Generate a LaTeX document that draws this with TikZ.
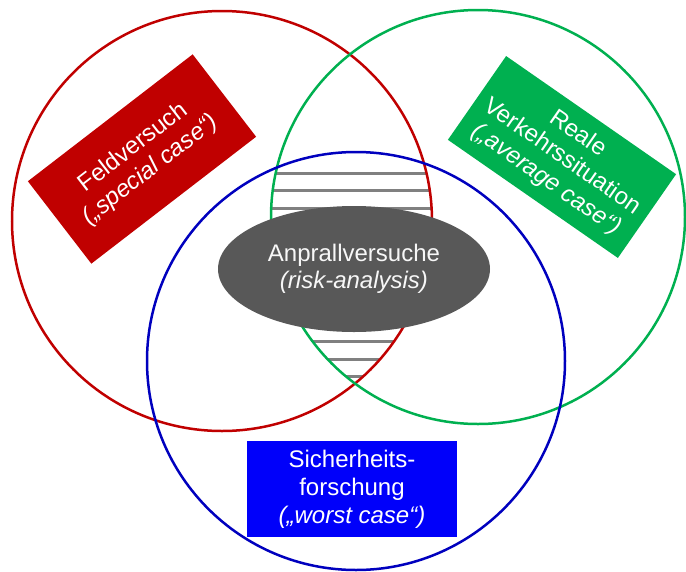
\documentclass[tikz,border=0pt]{standalone}
\usepackage{fontspec}
\setmainfont{Liberation Sans}
\usetikzlibrary{shapes.geometric}

\definecolor{fieldred}{RGB}{192,0,0}
\definecolor{trafficgreen}{RGB}{0,176,80}
\definecolor{safetyblue}{RGB}{0,0,190}
\definecolor{boxblue}{RGB}{0,0,250}
\definecolor{crashgray}{RGB}{88,88,88}
\definecolor{hatchgray}{RGB}{128,128,128}

\begin{document}
\begin{tikzpicture}[x=1pt, y=-1pt,
    ring/.style={line width=2.5pt},
    casebox/.style={inner sep=0pt, text=white, align=center, font=\fontsize{24}{28}\selectfont},
    hatch/.style={line width=3pt, hatchgray}]
    \useasboundingbox (0,0) rectangle (686,571);

    % Centres of the three circles
    \coordinate (field) at (222,221);
    \coordinate (traffic) at (478,217);
    \coordinate (safety) at (356,361);

    % Hatching in the part common to all three circles
    \begin{scope}
        \clip (field) circle[radius=210pt];
        \clip (traffic) circle[radius=207pt];
        \clip (safety) circle[radius=209pt];
        \foreach \y in {173,190.5,208,341.5,359,376.5}
            \draw[hatch] (250,\y) -- (460,\y);
    \end{scope}

    % Draw the three circles
    \draw[ring, fieldred] (field) circle[radius=210pt];
    \draw[ring, trafficgreen] (traffic) circle[radius=207pt];
    \draw[ring, safetyblue] (safety) circle[radius=209pt];

    % Anprallversuche in the middle, on top of the circles
    \node[ellipse, fill=crashgray, minimum width=272pt, minimum height=126pt,
          text=white!94!gray, align=center, font=\fontsize{24}{27}\selectfont]
          (crash) at (354,269) {Anprallversuche\\\textit{(risk-analysis)}};

    % Field test box (tilted up)
    \node[casebox, fill=fieldred, minimum width=208pt, minimum height=104pt, rotate=37.6]
          (fieldbox) at (142,159) {Feldversuch\\\textit{(„special case“)}};

    % Real traffic box (tilted down)
    \node[casebox, fill=trafficgreen, minimum width=207pt, minimum height=102pt, rotate=-34.8]
          (trafficbox) at (562,157) {Reale\\Verkehrssituation\\\textit{(„average case“)}};

    % Safety research box
    \node[casebox, fill=boxblue, minimum width=210pt, minimum height=96pt]
          (safetybox) at (352,489) {Sicherheits-\\forschung\\\textit{(„worst case“)}};
\end{tikzpicture}
\end{document}
